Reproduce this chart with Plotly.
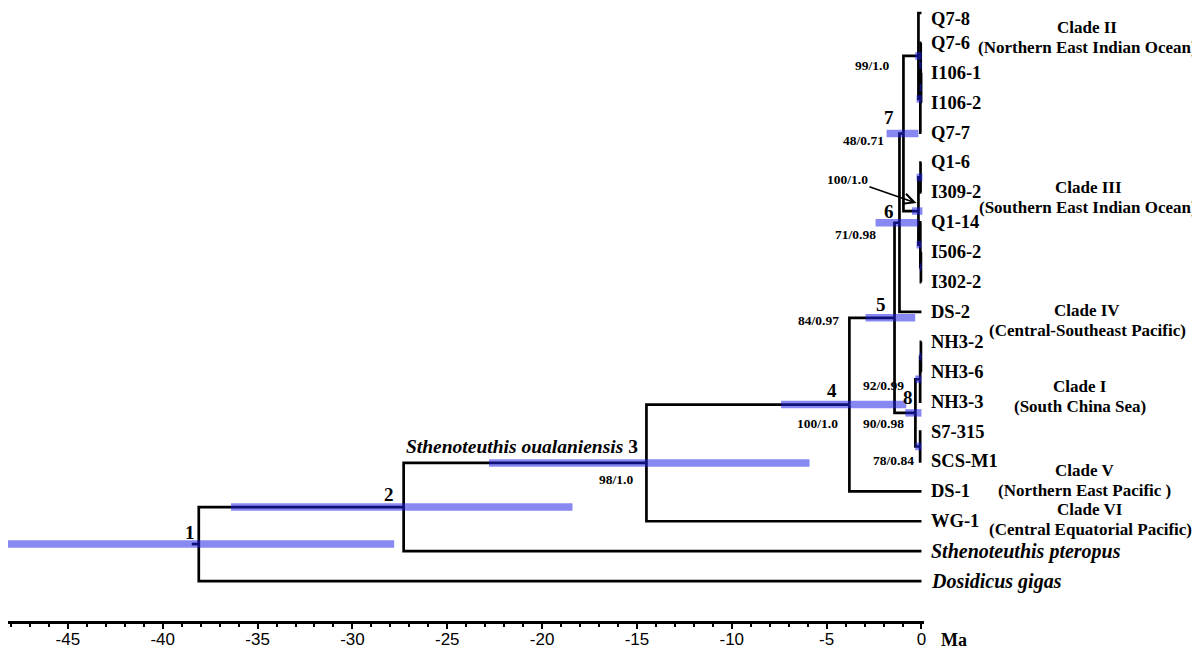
import plotly.graph_objects as go

# ---- data -------------------------------------------------------------
# tip order, top to bottom
tips = ["Q7-8", "Q7-6", "I106-1", "I106-2", "Q7-7",
        "Q1-6", "I309-2", "Q1-14", "I506-2", "I302-2",
        "DS-2", "NH3-2", "NH3-6", "NH3-3", "S7-315", "SCS-M1",
        "DS-1", "WG-1", "Sthenoteuthis pteropus", "Dosidicus gigas"]
italic_tips = ["Sthenoteuthis pteropus", "Dosidicus gigas"]

# internal nodes -> children (drawing order)
node_children = {
    "n1": ["n2", "Dosidicus gigas"],
    "n2": ["n3", "Sthenoteuthis pteropus"],
    "n3": ["n4", "WG-1"],
    "n4": ["n5", "DS-1"],
    "n5": ["n6", "n8"],
    "n6": ["n7", "DS-2"],
    "n7": ["c2", "c3"],
    "c2": ["Q7-8", "c2a"],
    "c2a": ["c2b", "Q7-7"],
    "c2b": ["Q7-6", "c2c"],
    "c2c": ["I106-1", "I106-2"],
    "c3": ["c3a", "c3b"],
    "c3a": ["Q1-6", "I309-2"],
    "c3b": ["Q1-14", "c3c"],
    "c3c": ["I506-2", "I302-2"],
    "n8": ["c1a", "c1b"],
    "c1a": ["c1c", "NH3-3"],
    "c1c": ["NH3-2", "NH3-6"],
    "c1b": ["S7-315", "SCS-M1"],
}

# node ages (Ma, negative = past)
node_age = {
    "n1": -38.1, "n2": -27.3, "n3": -14.5, "n4": -3.8, "n5": -1.42,
    "n6": -1.16, "n7": -0.95, "c2": -0.16, "c2a": -0.06, "c2b": -0.04,
    "c2c": -0.02, "c3": -0.16, "c3a": -0.05, "c3b": -0.06, "c3c": -0.03,
    "n8": -0.32, "c1a": -0.07, "c1c": -0.03, "c1b": -0.07,
}
root_stem = 0.37

# 95% HPD intervals of node ages
node_hpd = {
    "n1": (-48.3, -27.8), "n2": (-36.4, -18.4), "n3": (-22.8, -5.9),
    "n4": (-7.4, -0.8), "n5": (-2.95, -0.33), "n6": (-2.42, -0.16),
    "n7": (-1.84, -0.16), "n8": (-0.85, 0.0), "c2": (-0.33, 0.02),
    "c2a": (-0.26, 0.02), "c2b": (-0.12, 0.0), "c2c": (-0.1, 0.0),
    "c3": (-0.5, 0.05), "c3a": (-0.26, 0.05), "c3b": (-0.26, 0.0),
    "c3c": (-0.1, 0.0), "c1a": (-0.33, 0.0), "c1c": (-0.12, 0.0),
    "c1b": (-0.33, 0.0),
}

node_numbers = {"n1": "1", "n2": "2", "n3": "<i>Sthenoteuthis oualaniensis</i> 3",
                "n4": "4", "n5": "5", "n6": "6", "n7": "7", "n8": "8"}
support = {"c2": "99/1.0", "n7": "48/0.71", "c3": "100/1.0", "n6": "71/0.98",
           "n5": "84/0.97", "n4": "100/1.0", "c1a": "92/0.99", "n8": "90/0.98",
           "c1b": "78/0.84", "n3": "98/1.0"}

clade_names = ["Clade II", "Clade III", "Clade IV", "Clade I", "Clade V", "Clade VI"]
clade_regions = ["(Northern East Indian Ocean)", "(Southern East Indian Ocean)",
                 "(Central-Southeast Pacific)", "(South China Sea)",
                 "(Northern East Pacific )", "(Central Equatorial Pacific)"]

tick_vals = [-45, -40, -35, -30, -25, -20, -15, -10, -5, 0]
tick_text = ["-45", "-40", "-35", "-30", "-25", "-20", "-15", "-10", "-5", "0"]

# ---- layout helpers ---------------------------------------------------
# the page adds an 8px body margin, so the figure is kept 16px smaller
W, H = 1192, 641
PLOT_H = 614
# label placement (pixel shifts from node, or clade label centre in page px)
number_pos = {"n1": ("center", -9, 12), "n2": ("center", -15, 13),
              "n3": ("right", -6, 16), "n4": ("center", -17, 14),
              "n5": ("center", -14, 13), "n6": ("center", -10, 11),
              "n7": ("center", -14, 16), "n8": ("center", -7, 15)}
support_pos = {"c2": (-27, -10), "n7": (-17, -7), "n6": (-21, -12),
               "n5": (-54, -3), "n4": (-9, -19), "c1a": (-14, -6),
               "n8": (-9, -11), "c1b": (-4, -14), "n3": (-11, -17)}
clade_pos = [(1089, 0.50), (1090, 5.84), (1089, 9.95),
             (1082, 12.49), (1086, 15.29), (1092, 16.60)]
region_gap = 0.67
top_tip_shift = -6   # keeps the first tip label inside the page

SERIF = "Liberation Serif"

# ---- tree geometry ----------------------------------------------------
ypos = {t: i for i, t in enumerate(tips)}
age = {t: 0.0 for t in tips}
age.update(node_age)


def place(n):
    if n not in ypos:
        ys = [place(c) for c in node_children[n]]
        ypos[n] = (ys[0] + ys[-1]) / 2
    return ypos[n]


place("n1")

bx, by = [], []
for n, kids in node_children.items():
    for c in kids:
        bx += [age[n], age[n], age[c], None]
        by += [ypos[n], ypos[c], ypos[c], None]
bx += [age["n1"] - root_stem, age["n1"], None]
by += [ypos["n1"], ypos["n1"], None]

hx, hy = [], []
for n, (lo, hi) in node_hpd.items():
    hx += [lo, hi, None]
    hy += [ypos[n], ypos[n], None]

fig = go.Figure()
fig.add_trace(go.Scatter(x=bx, y=by, mode="lines", hoverinfo="skip",
                         line=dict(color="black", width=2.7), showlegend=False))
fig.add_trace(go.Scatter(x=hx, y=hy, mode="lines", hoverinfo="skip",
                         line=dict(color="rgba(30,30,230,0.53)", width=7.5),
                         showlegend=False))

ann = []
for i, t in enumerate(tips):
    if t in italic_tips:
        txt, size = f"<b><i>{t}</i></b>", 20
    else:
        txt, size = f"<b>{t}</b>", 18.5
    ann.append(dict(x=0, y=ypos[t], text=txt, showarrow=False, xanchor="left",
                    yanchor="middle", xshift=8,
                    yshift=top_tip_shift if i == 0 else 0,
                    font=dict(family=SERIF, size=size, color="black")))

for n, txt in node_numbers.items():
    anchor, dx, dy = number_pos[n]
    ann.append(dict(x=age[n], y=ypos[n], text=f"<b>{txt}</b>", showarrow=False,
                    xanchor=anchor, xshift=dx, yshift=dy,
                    font=dict(family=SERIF, size=19.5 if n == "n3" else 19,
                              color="black")))

for n, txt in support.items():
    if n == "c3":
        ann.append(dict(x=age[n], y=ypos[n], text=f"<b>{txt}</b>", showarrow=True,
                        arrowhead=5, arrowsize=1.3, arrowwidth=1.6, arrowcolor="black",
                        ax=-69, ay=-24, xshift=-2, yshift=8, standoff=0,
                        font=dict(family=SERIF, size=13.5, color="black")))
        continue
    dx, dy = support_pos[n]
    ann.append(dict(x=age[n], y=ypos[n], text=f"<b>{txt}</b>", showarrow=False,
                    xanchor="right", xshift=dx, yshift=dy,
                    font=dict(family=SERIF, size=13.5, color="black")))

for name, region, (cx, cy) in zip(clade_names, clade_regions, clade_pos):
    for txt, yy in ((name, cy), (region, cy + region_gap)):
        ann.append(dict(x=(cx - 8) / W, xref="paper", y=yy, yref="y",
                        text=f"<b>{txt}</b>", showarrow=False, xanchor="center",
                        yanchor="middle",
                        font=dict(family=SERIF, size=17, color="black")))

ann.append(dict(x=(956 - 8) / W, xref="paper", y=-19 / PLOT_H, yref="paper",
                text="<b>Ma</b>", showarrow=False, xanchor="center",
                yanchor="middle",
                font=dict(family=SERIF, size=18, color="black")))

fig.update_layout(
    width=W, height=H,
    margin=dict(l=0, r=0, t=0, b=H - PLOT_H, pad=0),
    plot_bgcolor="white", paper_bgcolor="white",
    annotations=ann,
    xaxis=dict(domain=[0, 19 * (48.158 + 0.13) / W], range=[-48.158, 0.13],
               tickvals=tick_vals, ticktext=tick_text, ticks="outside",
               ticklen=5, tickwidth=2,
               tickcolor="black", showline=True, linecolor="black", linewidth=3,
               showgrid=False, zeroline=False, ticklabelstandoff=-4,
               tickfont=dict(family="Liberation Sans", size=17, color="black"),
               minor=dict(dtick=1, ticks="outside", ticklen=3, tickwidth=1.5,
                          tickcolor="black", showgrid=False)),
    yaxis=dict(range=[20.336, -0.167], visible=False, showgrid=False,
               zeroline=False),
)

fig.write_html("out.html")
